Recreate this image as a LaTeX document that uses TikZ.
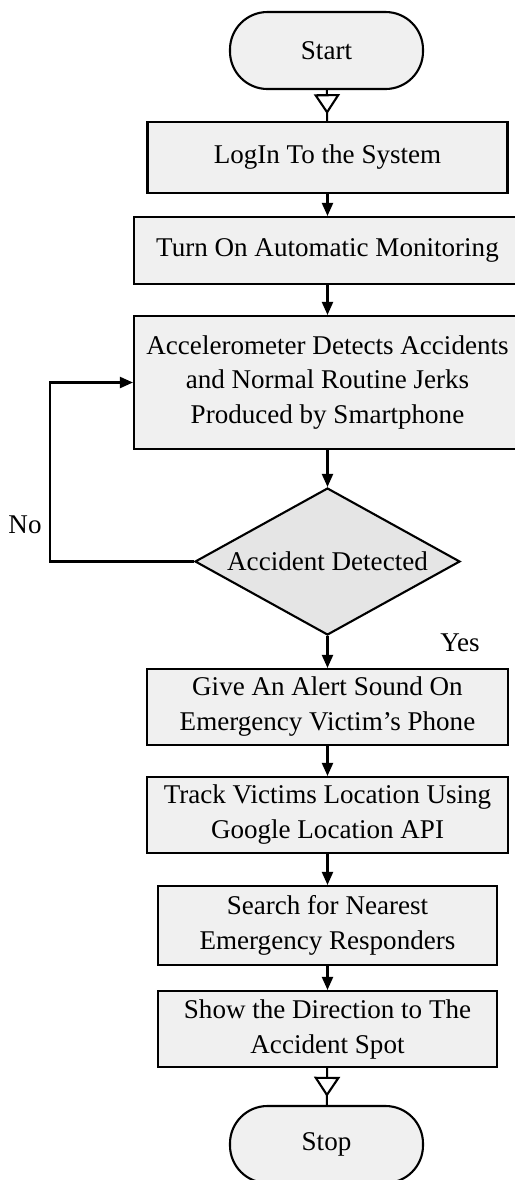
\documentclass[tikz,border=0pt]{standalone}
\usepackage{fontspec}
\setmainfont{Liberation Serif}
\usetikzlibrary{arrows.meta,positioning,shapes.geometric,decorations.markings}
\tikzset{pb/.style={draw,line width=1.2pt,fill=black!6,align=center,inner sep=0pt},
 tm/.style={pb,rounded corners=7.5mm,minimum width=38.6mm,minimum height=15.4mm},
 dc/.style={diamond,aspect=1.8,draw,line width=1.2pt,fill=black!10,inner sep=0pt,minimum width=53mm,minimum height=29.4mm},
 flow/.style={-{Triangle[length=2.6mm,width=2.2mm]},line width=1.2pt},
 hflow/.style={line width=1.2pt,postaction={decorate},decoration={markings,mark=at position 0.78 with {\arrow{Triangle[length=4mm,width=5.2mm,fill=white]}}}},
 txt/.style={align=center}}

\begin{document}
\begin{tikzpicture}[x=0.2mm,y=-0.2mm,font=\fontsize{15.4}{19.9}\selectfont]
\useasboundingbox (0,0) rectangle (514,1180);
\node[tm](start) at(326.5,50.5){Start};
\node[pb,minimum width=72mm,minimum height=14.2mm](login) at(327.5,157.5){LogIn To the System};
\node[pb,minimum width=77.4mm,minimum height=13.4mm](mon) at(327.5,250.5){Turn On Automatic Monitoring};
\node[pb,minimum width=77.4mm,minimum height=26.6mm](acc) at(327.5,382.5){Accelerometer Detects Accidents\\and Normal Routine Jerks\\Produced by Smartphone};
\node[dc](dec) at(327.5,561.5){Accident Detected};
\node[pb,minimum width=72.2mm,minimum height=15.2mm](alert) at(327.5,707){Give An Alert Sound On\\Emergency Victim's Phone};
\node[pb,minimum width=72.2mm,minimum height=15.2mm](track) at(327.5,815){Track Victims Location Using\\Google Location API};
\node[pb,minimum width=67.8mm,minimum height=15.8mm](search) at(327.5,925.5){Search for Nearest\\Emergency Responders};
\node[pb,minimum width=67.8mm,minimum height=15.2mm](show) at(327.5,1029){Show the Direction to The\\Accident Spot};
\node[tm](stop) at(326.5,1144.5){Stop};
\node[txt](no) at(25,525){No};
\node[txt](yes) at(460,643){Yes};
\coordinate (loop) at(50,0);
% main line
\draw[hflow](start)--(login);
\draw[flow](login)--(mon);
\draw[flow](mon)--(acc);
\draw[flow](acc)--(dec);
\draw[flow](dec)--(alert);
\draw[flow](alert)--(track);
\draw[flow](track)--(search);
\draw[flow](search)--(show);
\draw[hflow](show)--(stop);
% no branch
\draw[flow](dec.west)--(dec.west-|loop)|-(acc.west);
\end{tikzpicture}
\end{document}
